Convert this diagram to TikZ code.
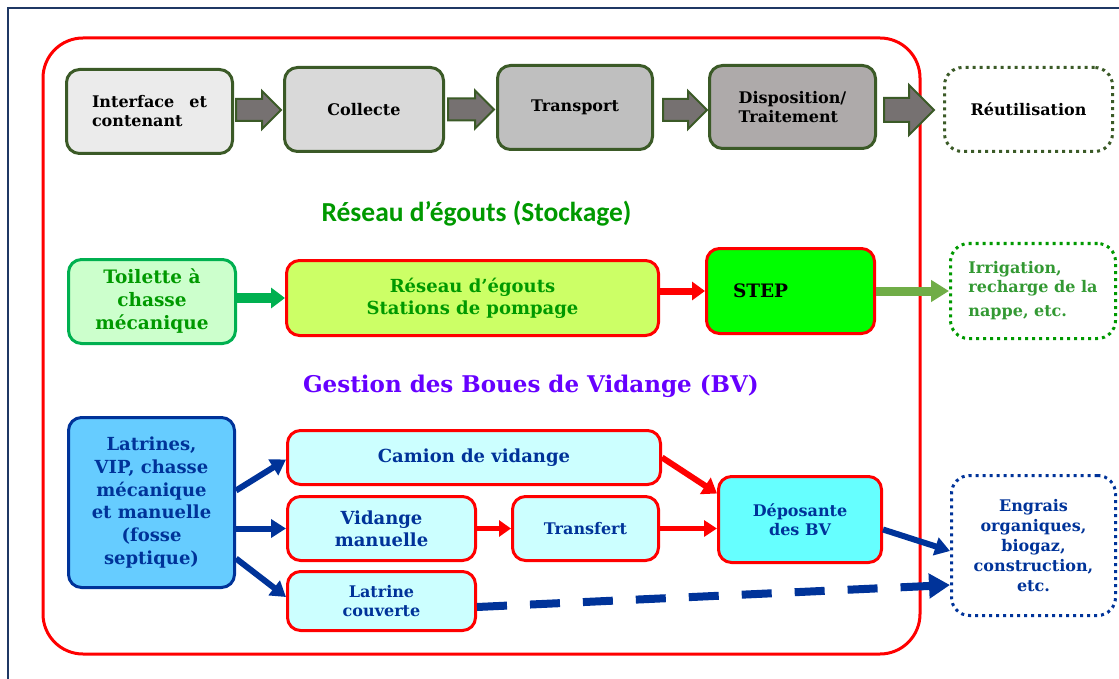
\documentclass[tikz,border=0pt]{standalone}
\usepackage{fontspec}
\setmainfont{DejaVu Serif}
\newfontfamily\calibrifont{Carlito}
\usetikzlibrary{arrows.meta,shapes.arrows,calc}
\definecolor{framenavy}{HTML}{1F3864}
\definecolor{olivedark}{HTML}{3B5A27}
\definecolor{arrowgray}{HTML}{767171}
\definecolor{grayA}{HTML}{EBEBEB}
\definecolor{grayB}{HTML}{D9D9D9}
\definecolor{grayC}{HTML}{BFBFBF}
\definecolor{grayD}{HTML}{AEAAAA}
\definecolor{mintfill}{HTML}{CCFFCC}
\definecolor{toilgreen}{HTML}{00B050}
\definecolor{limefill}{HTML}{CCFF66}
\definecolor{stepgreen}{HTML}{00FF00}
\definecolor{txtgreen}{HTML}{009900}
\definecolor{reusegreen}{HTML}{339933}
\definecolor{leafgreen}{HTML}{70AD47}
\definecolor{skyfill}{HTML}{66CCFF}
\definecolor{navyline}{HTML}{003399}
\definecolor{palecyan}{HTML}{CCFFFF}
\definecolor{cyanfill}{HTML}{66FFFF}
\definecolor{titleviolet}{HTML}{6600FF}
\tikzset{
	wh/.style 2 args={minimum width=#1pt, minimum height=#2pt},
	box/.style={draw, line width=3pt, rounded corners=13pt, align=center, inner sep=2pt,
		font=\bfseries\fontsize{16}{19}\selectfont},
	stage/.style={box, draw=olivedark},
	outlet/.style={box, dash pattern=on 3pt off 4pt, rounded corners=18pt},
	pinkbox/.style={box, draw=red, fill=palecyan, text=navyline},
	blockarrow/.style={single arrow, anchor=tail, draw=olivedark, line width=2pt, fill=arrowgray,
		inner xsep=0pt, inner ysep=10pt, single arrow head extend=8pt, single arrow head indent=0pt},
	navyflow/.style={draw=navyline, line width=6pt, -{Triangle[length=15pt,width=18pt]}},
	redflow/.style={draw=red, line width=6pt, -{Triangle[length=14pt,width=19pt]}},
}
\begin{document}
\begin{tikzpicture}[x=1pt, y=-1pt]
	\useasboundingbox (0,0) rectangle (1119,679);
	\clip (0,0) rectangle (1119,679);
	\draw[framenavy, line width=2pt] (8,8) rectangle (1140,700);
	\draw[red, line width=3pt, rounded corners=40pt] (43,38) rectangle (920,654);

	\node[stage, fill=grayA, wh={166}{84}, text width=115pt, align=left] (iface) at (149.5,111.5) {Interface\hfill et\\contenant};
	\node[stage, fill=grayB, wh={159}{84}] (coll) at (364,109.5) {Collecte};
	\node[stage, fill=grayC, wh={155}{84}] (transp) at (575,107.5) {Transport};
	\node[stage, fill=grayD, wh={166}{83}, align=left] (dispo) at (792.5,107) {Disposition/\\Traitement};
	\node[outlet, draw=olivedark, wh={168}{84}] (reuse) at (1028.5,109.5) {Réutilisation};

	\node[blockarrow, minimum height=45pt] (a1) at ([xshift=1pt,yshift=1.5pt]iface.east) {};
	\node[blockarrow, minimum height=46pt] (a2) at ([xshift=2pt]coll.east) {};
	\node[blockarrow, minimum height=44pt] (a3) at ([xshift=8pt,yshift=-2.5pt]transp.east) {};
	\node[blockarrow, minimum height=50pt, inner ysep=11pt, single arrow head extend=13pt] (a4) at ([xshift=6pt,yshift=-3pt]dispo.east) {};

	\node[text=txtgreen, font=\calibrifont\bfseries\fontsize{27.5}{32}\selectfont] (sewtitle) at (476.5,214) {Réseau d’égouts (Stockage)};

	\node[box, draw=toilgreen, fill=mintfill, text=txtgreen, wh={167}{84}, font=\bfseries\fontsize{18.5}{23}\selectfont] (toil) at (152,301.5) {Toilette à\\chasse\\mécanique};
	\node[box, draw=red, fill=limefill, text=txtgreen, wh={372}{75}, font=\bfseries\fontsize{18}{22}\selectfont] (sewer) at (472.5,298) {Réseau d’égouts\\Stations de pompage};
	\node[box, draw=red, fill=stepgreen, wh={168}{85}, text width=115pt, align=left, font=\bfseries\fontsize{18.5}{22}\selectfont] (step) at (790.5,291) {STEP};
	\node[outlet, draw=txtgreen, text=reusegreen, wh={165}{95}, align=left] (irrig) at (1033,291) {Irrigation,\\recharge de la\\[5pt]nappe, etc.};

	\draw[draw=toilgreen, line width=10pt, -{Triangle[length=14pt,width=20pt]}] (toil.east |- sewer.west) -- (sewer.west);
	\draw[draw=red, line width=7pt, -{Triangle[length=13pt,width=18pt]}] (sewer.east |- step.west) -- (step.west);
	\draw[draw=leafgreen, line width=9pt, -{Triangle[length=18pt,width=21pt]}] (step.east) -- (irrig.west);

	\node[text=titleviolet, font=\bfseries\fontsize{23}{28}\selectfont] (fstitle) at (531,386) {Gestion des Boues de Vidange (BV)};

	\node[box, draw=navyline, fill=skyfill, text=navyline, wh={166}{170}, font=\bfseries\fontsize{18}{22.7}\selectfont] (latr) at (151.5,502.5) {Latrines,\\VIP, chasse\\mécanique\\et manuelle\\(fosse\\septique)};
	\node[pinkbox, wh={373}{54}, font=\bfseries\fontsize{18}{22}\selectfont] (camion) at (474,457.5) {Camion de vidange};
	\node[pinkbox, wh={188}{64}, font=\bfseries\fontsize{18}{22}\selectfont] (vman) at (381.5,528.5) {Vidange\\manuelle};
	\node[pinkbox, wh={146}{64}] (transf) at (585.5,528.5) {Transfert};
	\node[pinkbox, wh={188}{59}, font=\bfseries\fontsize{16}{19.5}\selectfont] (couv) at (381.5,601) {Latrine\\couverte};
	\node[pinkbox, fill=cyanfill, wh={163}{86}] (depos) at (800,519.5) {Déposante\\des BV};
	\node[outlet, draw=navyline, text=navyline, wh={164}{140}, font=\bfseries\fontsize{16}{20}\selectfont] (engr) at (1033.5,545.5) {Engrais\\organiques,\\biogaz,\\construction,\\etc.};

	\draw[navyflow] ([yshift=12pt]latr.east) -- ([yshift=-2pt]camion.west);
	\draw[navyflow] (latr.east |- vman.west) -- (vman.west);
	\draw[navyflow] ([yshift=-56pt]latr.east) -- ([yshift=4pt]couv.west);
	\draw[redflow] (camion.east) -- ([yshift=26pt]depos.west);
	\draw[draw=red, line width=5pt, -{Triangle[length=12pt,width=16pt]}] (vman.east) -- (transf.west);
	\draw[draw=red, line width=5pt, -{Triangle[length=13pt,width=16pt]}] (transf.east) -- (transf.east -| depos.west);
	\draw[navyflow] ([yshift=-10pt]depos.east) -- ([yshift=-5.5pt]engr.west);
	\draw[draw=navyline, line width=8pt, dash pattern=on 30pt off 23pt, -{Triangle[length=21pt,width=24pt]}] ([yshift=-6pt]couv.east) -- ([yshift=-39.5pt]engr.west);
\end{tikzpicture}
\end{document}
